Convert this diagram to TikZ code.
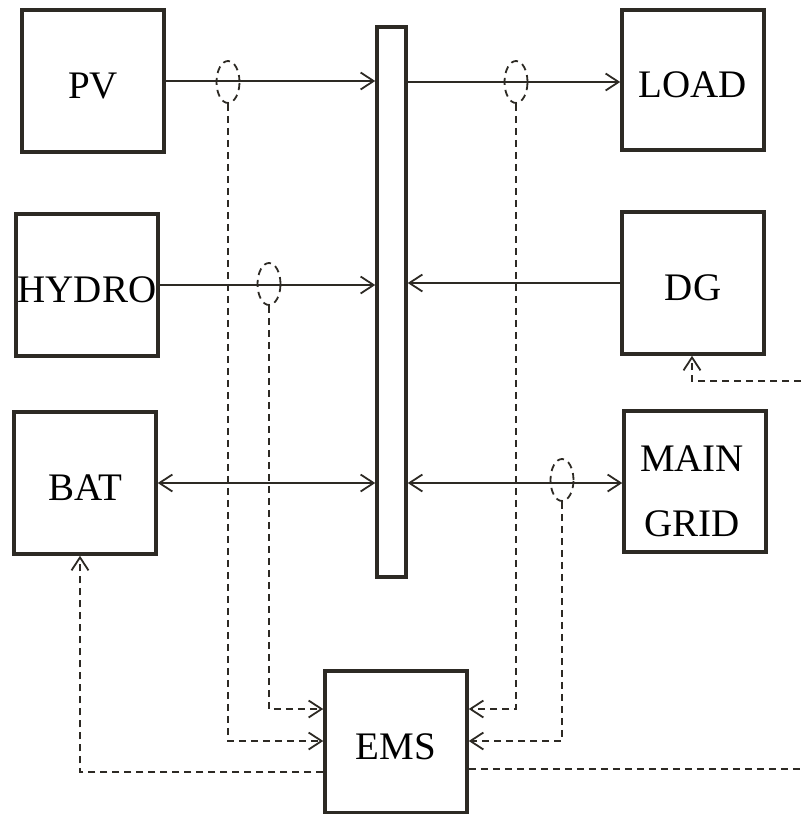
\documentclass[tikz,border=0pt]{standalone}
\usepackage{fontspec}
\setmainfont{Liberation Serif}
\usetikzlibrary{arrows.meta,shapes.geometric}
\definecolor{ink}{RGB}{45,42,36}
\begin{document}
\begin{tikzpicture}[x=1pt,y=-1pt,
  box/.style={draw=ink,line width=3.5pt,minimum width=142pt,minimum height=142pt,inner sep=0pt,font=\fontsize{39}{47}\selectfont,text=black,text height=34pt,text depth=0pt},
  sline/.style={draw=ink,line width=1.8pt},
  dline/.style={draw=ink,line width=1.8pt,dash pattern=on 7pt off 5pt},
  tip/.style={-{Straight Barb[length=13pt,width=17pt]}},
  dtip/.style={{Straight Barb[length=13pt,width=17pt]}-{Straight Barb[length=13pt,width=17pt]}},
  ring/.style={ellipse,draw=ink,line width=1.8pt,dash pattern=on 7pt off 5pt,minimum width=23pt,minimum height=42pt,inner sep=0pt}]
\useasboundingbox (0,0) rectangle (801,814);
% boxes
\node[box] (pv) at (93,81) {PV};
\node[box] (hydro) at (87,285) {HYDRO};
\node[box] (bat) at (85,483) {BAT};
\node[box,minimum height=140pt] (load) at (693,80) {LOAD};
\node[box] (dg) at (693,283) {DG};
\node[box,minimum height=141pt] (mg) at (695,481.5) {};
\node[font=\fontsize{39}{47}\selectfont,text=black] (mgt1) at (692,459) {MAIN};
\node[font=\fontsize{39}{47}\selectfont,text=black] (mgt2) at (692,524) {GRID};
\node[box] (ems) at (396,742) {EMS};
\node[draw=ink,line width=3.5pt,minimum width=29pt,minimum height=550pt,inner sep=0pt] (bus) at (391.5,302) {};
% power lines
\draw[sline,tip] (pv.east) -- (pv.east -| bus.west);
\draw[sline,tip] (bus.east |- 0,82) -- (load.west |- 0,82);
\draw[sline,tip] (hydro.east) -- (hydro.east -| bus.west);
\draw[sline,tip] (dg.west) -- (dg.west -| bus.east);
\draw[sline,dtip] (bat.east) -- (bat.east -| bus.west);
\draw[sline,dtip] (bus.east |- 0,483) -- (mg.west |- 0,483);
% measurement rings
\node[ring] (e1) at (228,82) {};
\node[ring] (e2) at (269,284) {};
\node[ring] (e3) at (516,82) {};
\node[ring] (e4) at (562,480) {};
% signal lines to EMS
\draw[dline,tip] (e1.south) |- ([yshift=1pt]ems.west);
\draw[dline,tip] (e2.south) |- ([yshift=33pt]ems.west);
\draw[dline,tip] (e3.south) |- ([yshift=33pt]ems.east);
\draw[dline,tip] (e4.south) |- ([yshift=1pt]ems.east);
% control lines from EMS
\draw[dline,tip] ([yshift=-30pt]ems.west) -| ([xshift=-5pt]bat.south);
\coordinate (r1) at (801,769);
\coordinate (r2) at (801,381);
\draw[dline] ([yshift=-27pt]ems.east) -- (r1);
\draw[dline,tip] (r2) -| ([xshift=-1pt]dg.south);
\end{tikzpicture}
\end{document}
